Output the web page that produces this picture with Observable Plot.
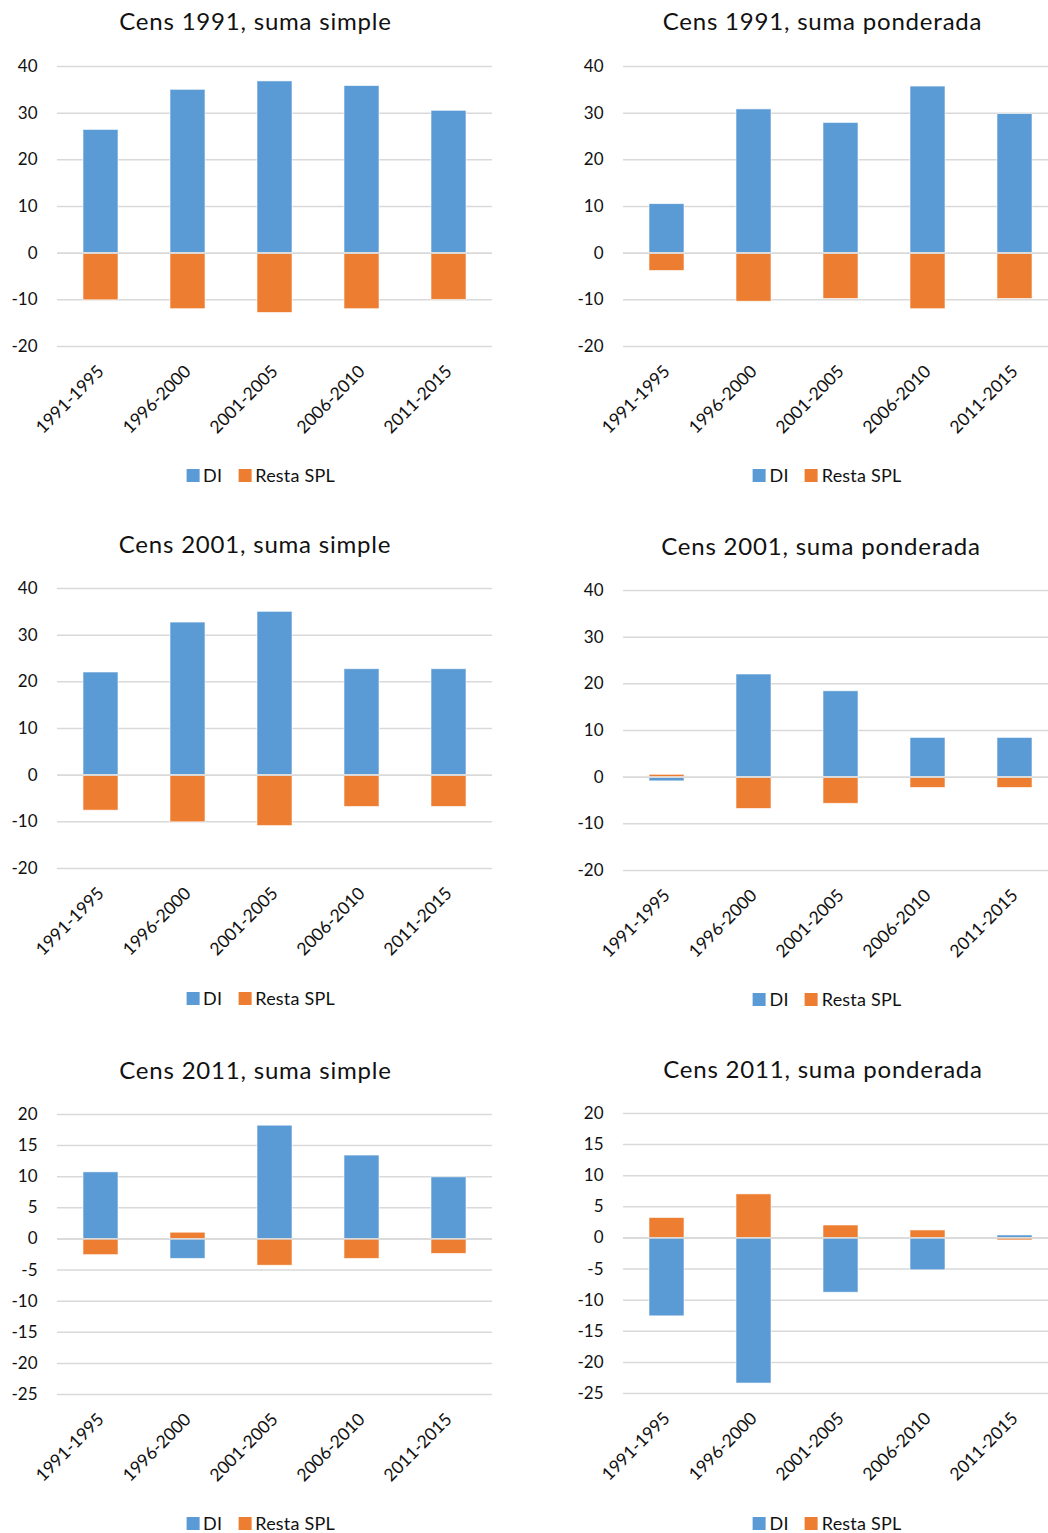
<!DOCTYPE html>
<html>
<head>
<meta charset="utf-8">
<script src="https://cdn.jsdelivr.net/npm/d3@7"></script>
<script src="https://cdn.jsdelivr.net/npm/@observablehq/plot@0.6"></script>
<style>
  html, body { margin: 0; padding: 0; background: #fff; overflow: hidden; }
  body { width: 1048px; height: 1533px; position: relative; font-family: Lato, "Open Sans", sans-serif; color: #111; }
  .abs { position: absolute; }
  .title { position: absolute; transform: translate(-50%, -50%); font-size: 24px; letter-spacing: 0.8px; white-space: nowrap; }
  .legend { position: absolute; transform: translate(-50%, -50%); font-size: 18px; letter-spacing: 0.2px; white-space: nowrap; display: flex; align-items: center; }
  .sw { display: inline-block; width: 13px; height: 13px; margin-right: 4px; }
  .item { display: flex; align-items: center; margin-right: 16px; }
  .item:last-child { margin-right: 0; }
</style>
</head>
<body>
<script>
// ---- Data ----
const periods = ["1991-1995", "1996-2000", "2001-2005", "2006-2010", "2011-2015"];
const seriesNames = ["DI", "Resta SPL"];
const seriesColors = ["#5B9BD5", "#ED7D31"];

const di1991Simple = [26.4, 35.0, 36.8, 35.8, 30.5];
const spl1991Simple = [-10.1, -12.0, -12.8, -12.0, -10.0];
const di1991Pond = [10.5, 30.8, 27.9, 35.7, 29.8];
const spl1991Pond = [-3.8, -10.4, -9.8, -12.0, -9.8];
const di2001Simple = [22.0, 32.7, 35.0, 22.7, 22.7];
const spl2001Simple = [-7.6, -10.1, -10.9, -6.8, -6.8];
const di2001Pond = [-0.9, 22.0, 18.4, 8.4, 8.4];
const spl2001Pond = [0.5, -6.8, -5.7, -2.3, -2.3];
const di2011Simple = [10.7, -3.2, 18.2, 13.4, 9.9];
const spl2011Simple = [-2.6, 1.0, -4.3, -3.2, -2.4];
const di2011Pond = [-12.6, -23.4, -8.8, -5.2, 0.4];
const spl2011Pond = [3.2, 7.0, 2.0, 1.2, -0.4];

const ticksTop = [-20, -10, 0, 10, 20, 30, 40];
const ticksBottom = [-25, -20, -15, -10, -5, 0, 5, 10, 15, 20];

const titles = [
  "Cens 1991, suma simple", "Cens 1991, suma ponderada",
  "Cens 2001, suma simple", "Cens 2001, suma ponderada",
  "Cens 2011, suma simple", "Cens 2011, suma ponderada"
];

// ---- Layout (positions only) ----
const panels = [
  {di: di1991Simple, spl: spl1991Simple, ticks: ticksTop, left: 0, top: 40, width: 524, ml: 57, mr: 32, tx: 255.5, ty: 20, lx: 260.5, ly: 475},
  {di: di1991Pond, spl: spl1991Pond, ticks: ticksTop, left: 524, top: 40, width: 534, ml: 99, mr: 0, tx: 822.5, ty: 20, lx: 827, ly: 475},
  {di: di2001Simple, spl: spl2001Simple, ticks: ticksTop, left: 0, top: 562, width: 524, ml: 57, mr: 32, tx: 255, ty: 543, lx: 260.5, ly: 998},
  {di: di2001Pond, spl: spl2001Pond, ticks: ticksTop, left: 524, top: 564, width: 534, ml: 99, mr: 0, tx: 821, ty: 545, lx: 827, ly: 999},
  {di: di2011Simple, spl: spl2011Simple, ticks: ticksBottom, left: 0, top: 1088, width: 524, ml: 57, mr: 32, tx: 255.5, ty: 1069, lx: 260.5, ly: 1523},
  {di: di2011Pond, spl: spl2011Pond, ticks: ticksBottom, left: 524, top: 1087, width: 534, ml: 99, mr: 0, tx: 823, ty: 1068, lx: 827, ly: 1523}
];

panels.forEach((p, i) => {
  const rows = [];
  periods.forEach((per, k) => {
    rows.push({period: per, series: seriesNames[0], value: p.di[k]});
    rows.push({period: per, series: seriesNames[1], value: p.spl[k]});
  });
  const yDomain = [p.ticks[0], p.ticks[p.ticks.length - 1]];
  const chart = Plot.plot({
    width: p.width,
    height: 420,
    marginTop: 26,
    marginBottom: 114,
    marginLeft: p.ml,
    marginRight: p.mr,
    style: {fontFamily: "Lato, 'Open Sans', sans-serif", fontSize: "17px", color: "#111", background: "transparent", overflow: "visible"},
    x: {domain: periods, paddingInner: 0.6, paddingOuter: 0.3, label: null},
    y: {domain: yDomain, label: null},
    color: {domain: seriesNames, range: seriesColors},
    marks: [
      Plot.gridY(p.ticks, {stroke: "#d9d9d9", strokeOpacity: 1, strokeWidth: 1.5}),
      Plot.barY(rows, Plot.stackY({x: "period", y: "value", fill: "series", stroke: "#ffffff", strokeWidth: 0.8, strokeOpacity: 0.7})),
      Plot.ruleY([0], {stroke: "#d9d9d9", strokeWidth: 1.5}),
      Plot.axisY(p.ticks, {tickSize: 0, tickPadding: 20, tickFormat: d => String(d), fontSize: 17, label: null}),
      Plot.axisX({tickSize: 0, tickPadding: 22, tickRotate: -45, fontSize: 17.5, label: null, letterSpacing: "0.3px"})
    ]
  });
  chart.classList.add("abs");
  chart.style.left = p.left + "px";
  chart.style.top = p.top + "px";
  document.body.appendChild(chart);

  const t = document.createElement("div");
  t.className = "title";
  t.textContent = titles[i];
  t.style.left = p.tx + "px";
  t.style.top = p.ty + "px";
  document.body.appendChild(t);

  const lg = document.createElement("div");
  lg.className = "legend";
  lg.style.left = p.lx + "px";
  lg.style.top = p.ly + "px";
  seriesNames.forEach((s, j) => {
    const it = document.createElement("span");
    it.className = "item";
    const sw = document.createElement("span");
    sw.className = "sw";
    sw.style.background = seriesColors[j];
    it.appendChild(sw);
    it.appendChild(document.createTextNode(s));
    lg.appendChild(it);
  });
  document.body.appendChild(lg);
});
</script>
</body>
</html>
